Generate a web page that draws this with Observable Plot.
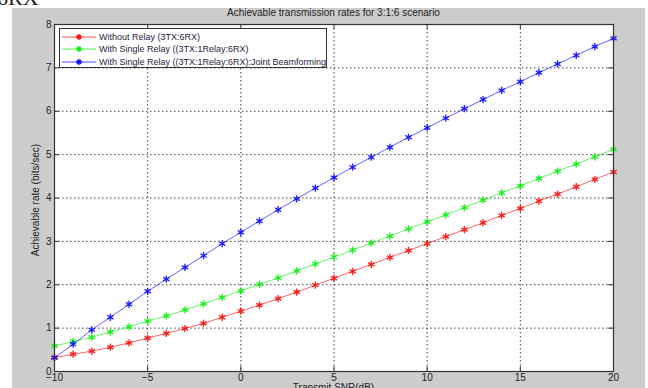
<!DOCTYPE html>
<html>
<head>
<meta charset="utf-8">
<script src="https://cdn.jsdelivr.net/npm/d3@7"></script>
<script src="https://cdn.jsdelivr.net/npm/@observablehq/plot@0.6"></script>
<style>
  html, body { margin: 0; padding: 0; background: #fff; overflow: hidden; }
  #wrap { position: relative; width: 648px; height: 388px; overflow: hidden; font-family: "Liberation Sans", Arial, sans-serif; }
  #bg { position: absolute; left: 12px; top: 8px; width: 633px; height: 380px; background: #cccccc; }
  #frag { position: absolute; left: -3px; top: -15px; font: 22px "Liberation Serif", serif; color: #222; }
  #title { position: absolute; left: 54px; width: 559px; top: 7px; text-align: center; font-size: 10px; color: #222; }
  #ylab { position: absolute; left: 35px; top: 200px; transform: translate(-50%,-50%) rotate(-90deg); font-size: 10px; color: #222; white-space: nowrap; }
  #xlab { position: absolute; left: 54px; width: 559px; top: 382px; text-align: center; font-size: 10px; color: #222; }
  #chart { position: absolute; left: 0; top: 0; }
  #legend { position: absolute; left: 59px; top: 28px; width: 268px; height: 40px; background: #fff; border: 1px solid #333; box-sizing: border-box; font-size: 9px; color: #2a2340; }
  .row { position: absolute; left: 0; height: 12px; display: flex; align-items: center; white-space: nowrap; }
  .row svg { margin-left: 2px; margin-right: 3px; }
</style>
</head>
<body>
<div id="wrap">
  <div id="bg"></div>
  <div id="frag">6RX</div>
  <div id="chart"></div>
  <div id="title"></div>
  <div id="ylab"></div>
  <div id="xlab"></div>
  <div id="legend"></div>
</div>
<script>
const snr = d3.range(-10, 21, 1);
const withoutRelay = [0.32,0.40,0.47,0.56,0.66,0.77,0.88,0.99,1.11,1.25,1.39,1.53,1.68,1.83,1.99,2.15,2.31,2.47,2.63,2.79,2.95,3.11,3.27,3.43,3.60,3.76,3.93,4.09,4.26,4.43,4.60];
const singleRelay = [0.59,0.69,0.79,0.91,1.03,1.16,1.28,1.42,1.56,1.71,1.86,2.01,2.16,2.32,2.48,2.64,2.80,2.96,3.12,3.29,3.45,3.61,3.78,3.95,4.12,4.28,4.45,4.62,4.78,4.95,5.12];
const jointBF = [0.32,0.63,0.96,1.25,1.55,1.85,2.13,2.40,2.67,2.95,3.21,3.47,3.73,3.98,4.23,4.47,4.71,4.94,5.17,5.40,5.62,5.84,6.06,6.27,6.48,6.68,6.89,7.09,7.29,7.49,7.68];

const seriesNames = ["Without Relay (3TX:6RX)", "With Single Relay ((3TX:1Relay:6RX)", "With Single Relay ((3TX:1Relay:6RX):Joint Beamforming"];
const seriesColors = ["#ff0000", "#00ee00", "#0000ff"];
const xTicks = [-10, -5, 0, 5, 10, 15, 20];
const yTicks = [0, 1, 2, 3, 4, 5, 6, 7, 8];
const titleText = "Achievable transmission rates for 3:1:6 scenario";
const xLabel = "Transmit SNR(dB)";
const yLabel = "Achievable rate (bits/sec)";

const data = [];
[withoutRelay, singleRelay, jointBF].forEach((arr, i) => {
  arr.forEach((v, j) => data.push({x: snr[j], y: v, s: seriesNames[i]}));
});

const tickLenX = 0.115, tickLenY = 0.27;

const plot = Plot.plot({
  width: 648,
  height: 388,
  marginLeft: 54,
  marginRight: 35,
  marginTop: 24,
  marginBottom: 17,
  style: {background: "transparent", fontFamily: "Liberation Sans, Arial, sans-serif", fontSize: "10px", color: "#222"},
  x: {domain: [-10, 20], ticks: xTicks, label: null, tickSize: 0, tickPadding: 3},
  y: {domain: [0, 8], ticks: yTicks, label: null, tickSize: 0, tickPadding: 3},
  color: {domain: seriesNames, range: seriesColors},
  marks: [
    Plot.frame({fill: "white"}),
    Plot.ruleX(xTicks.slice(1, -1), {stroke: "#222", strokeOpacity: 0.85, strokeDasharray: "1.5,2.5", strokeWidth: 1}),
    Plot.ruleY(yTicks.slice(1, -1), {stroke: "#222", strokeOpacity: 0.85, strokeDasharray: "1.5,2.5", strokeWidth: 1}),
    Plot.ruleX(xTicks, {y1: 0, y2: tickLenX, stroke: "#333"}),
    Plot.ruleX(xTicks, {y1: 8, y2: 8 - tickLenX, stroke: "#333"}),
    Plot.ruleY(yTicks, {x1: -10, x2: -10 + tickLenY, stroke: "#333"}),
    Plot.ruleY(yTicks, {x1: 20, x2: 20 - tickLenY, stroke: "#333"}),
    Plot.line(data, {x: "x", y: "y", stroke: "s", strokeWidth: 1, strokeOpacity: 0.6}),
    Plot.dot(data, {x: "x", y: "y", stroke: "s", symbol: "asterisk", r: 3.4, strokeWidth: 1.4, strokeOpacity: 0.85}),
    Plot.frame({stroke: "#333", strokeWidth: 1.2}),
    Plot.axisX({ticks: xTicks, tickSize: 0, tickPadding: 2, label: null}),
    Plot.axisY({ticks: yTicks, tickSize: 0, tickPadding: 3, label: null})
  ]
});
document.getElementById("chart").appendChild(plot);
document.getElementById("title").textContent = titleText;
document.getElementById("ylab").textContent = yLabel;
document.getElementById("xlab").textContent = xLabel;

const leg = document.getElementById("legend");
seriesNames.forEach((name, i) => {
  const row = document.createElement("div");
  row.className = "row";
  row.style.top = (2 + i * 12.3) + "px";
  const c = seriesColors[i];
  row.innerHTML = `<svg width="34" height="10"><line x1="0" y1="5" x2="34" y2="5" stroke="${c}" stroke-opacity="0.7" stroke-width="1"/><g transform="translate(17,5)" stroke="${c}" stroke-width="1.3"><line x1="-3" y1="0" x2="3" y2="0"/><line x1="0" y1="-3" x2="0" y2="3"/><line x1="-2" y1="-2" x2="2" y2="2"/><line x1="-2" y1="2" x2="2" y2="-2"/></g></svg><span></span>`;
  row.querySelector("span").textContent = name;
  leg.appendChild(row);
});
</script>
</body>
</html>
